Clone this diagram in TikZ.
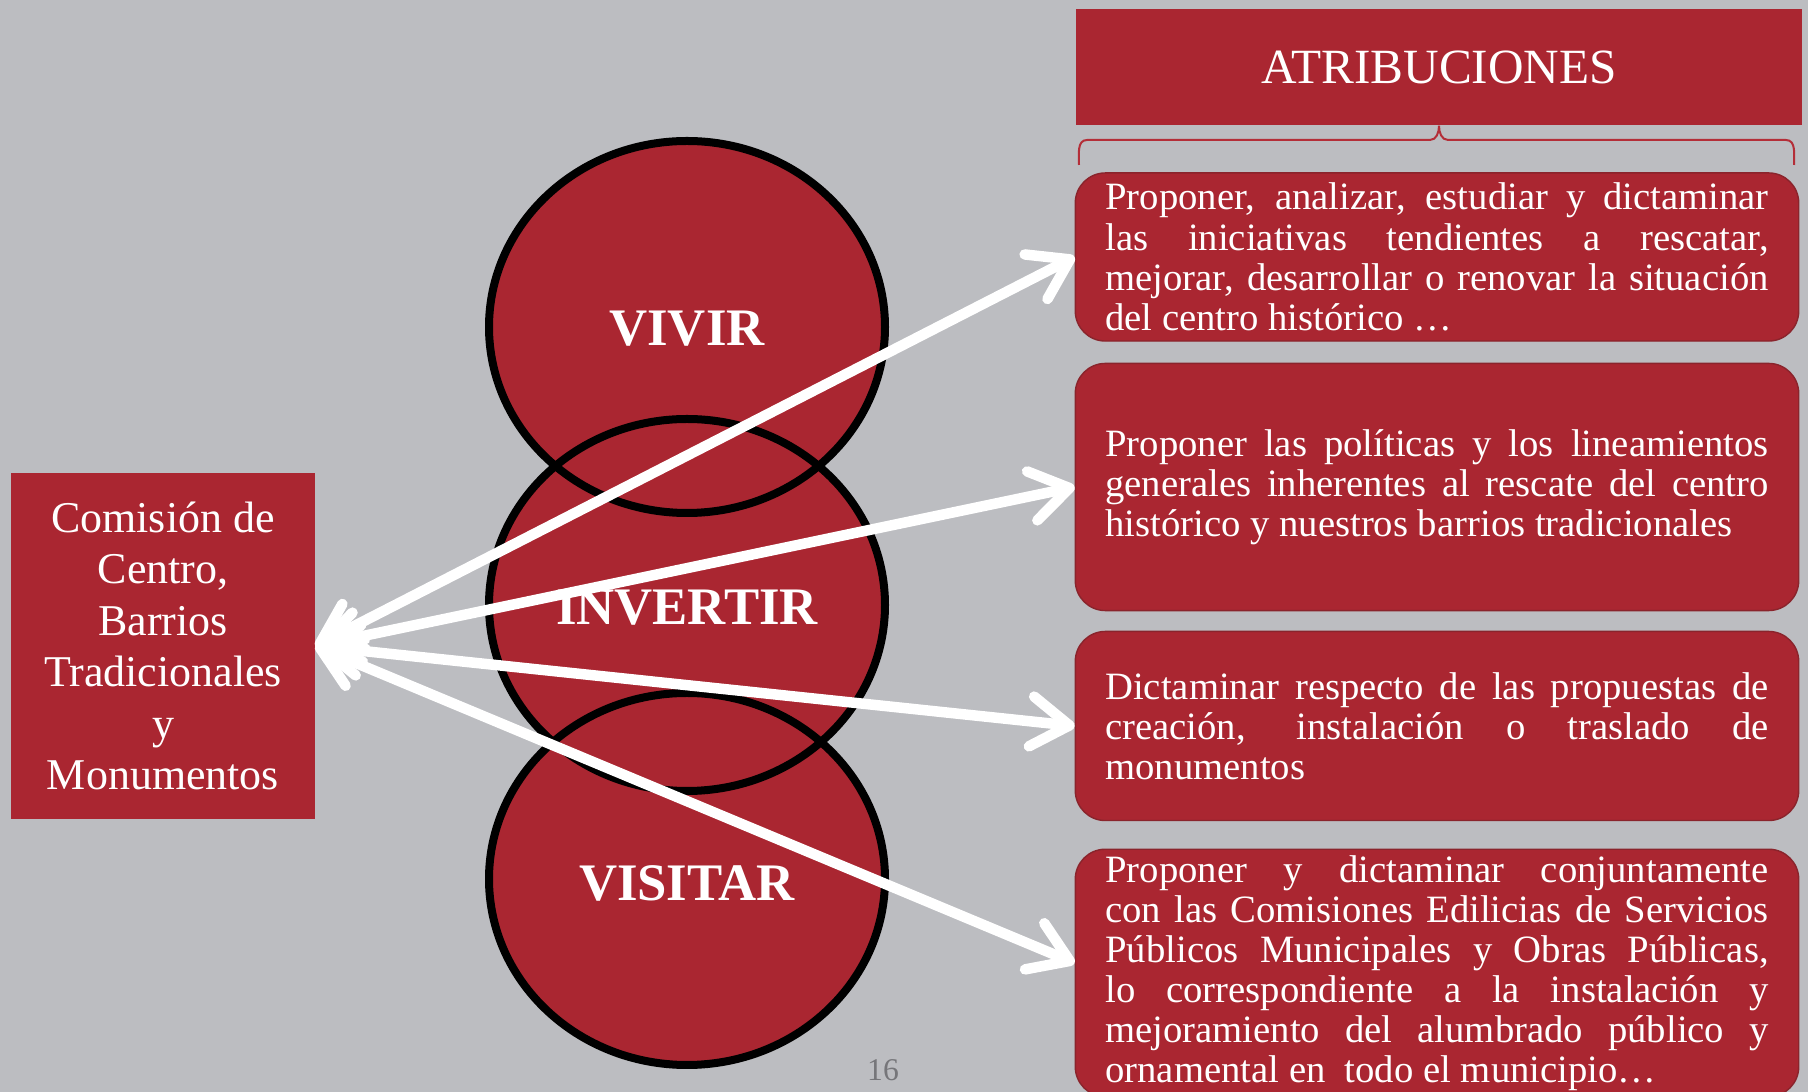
\documentclass[tikz,border=0pt]{standalone}
\usepackage{fontspec}
\setmainfont{Liberation Serif}
\usetikzlibrary{arrows.meta}
\definecolor{fondo}{RGB}{188,189,193}
\definecolor{rojo}{RGB}{170,38,49}
\definecolor{borde}{RGB}{138,36,44}
\definecolor{llave}{RGB}{180,46,56}
\definecolor{numero}{RGB}{118,118,122}
\begin{document}
\begin{tikzpicture}[x=0.01cm,y=-0.01cm,
    caja/.style={rectangle,rounded corners=0.3cm,fill=rojo,draw=borde,line width=0.4pt,text=white,
      text width=6.63cm,align=justify,inner xsep=0.3cm,inner ysep=0pt,font=\fontsize{11}{11.4}\selectfont},
    titulo/.style={rectangle,fill=rojo,text=white,minimum width=7.26cm,minimum height=1.16cm,font=\fontsize{14}{16}\selectfont},
    comision/.style={rectangle,fill=rojo,text=white,minimum width=3.03cm,minimum height=3.46cm,align=center,
      inner sep=0pt,font=\fontsize{12.5}{14.65}\selectfont},
    circulo/.style={text=white,font=\fontsize{15}{17}\selectfont\bfseries},
    aro/.style={draw=black,line width=0.8mm},
    flecha/.style={draw=white,line width=1.05mm,line cap=round,<->,
      >={Straight Barb[length=3.8mm,width=5mm,round]}},
    llave/.style={draw=llave,line width=0.2mm},
    pagina/.style={text=numero,font=\fontsize{9}{10}\selectfont}]
  \useasboundingbox (0,0) rectangle (1808,1092);
  \fill[fondo] (0,0) rectangle (1808,1092);
  \foreach \y in {327,605,879}
    \fill[rojo] (687,\y) ellipse [x radius=198, y radius=186];
  \foreach \y in {327,605,879}
    \draw[aro] (687,\y) ellipse [x radius=198, y radius=186];
  \node[circulo] (v1) at (687,329) {VIVIR};
  \node[circulo] (v2) at (687,608) {INVERTIR};
  \node[circulo] (v3) at (687,883) {VISITAR};
  \node[titulo] (t) at (1439,67) {ATRIBUCIONES};
  \draw[llave] (1079,165) to[out=90,in=180] (1087,140) -- (1430,140) to[out=0,in=-90] (t.south)
    to[out=-90,in=180] (1448,140) -- (1786,140) to[out=0,in=90] (1794,165);
  \node[caja,minimum height=1.68cm] (b1) at (1437,257) {Proponer, analizar, estudiar y dictaminar\linebreak
    las iniciativas tendientes a rescatar,\linebreak
    mejorar, desarrollar o renovar la situación\linebreak
    del centro histórico \dots};
  \node[caja,minimum height=2.47cm] (b2) at (1437,487) {Proponer las políticas y los lineamientos\linebreak
    generales inherentes al rescate del centro\linebreak
    histórico y nuestros barrios tradicionales};
  \node[caja,minimum height=1.89cm] (b3) at (1437,726) {Dictaminar respecto de las propuestas de\linebreak
    creación, instalación o traslado de\linebreak
    monumentos};
  \node[caja,inner ysep=0.06cm] (b4) at (1437,973) {Proponer y dictaminar conjuntamente\linebreak
    con las Comisiones Edilicias de Servicios\linebreak
    Públicos Municipales y Obras Públicas,\linebreak
    lo correspondiente a la instalación y\linebreak
    mejoramiento del alumbrado público y\linebreak
    ornamental en\ \ todo el municipio\dots};
  \node[comision] (c) at (163,646) {Comisión de\\Centro,\\Barrios\\Tradicionales\\y\\Monumentos};
  \node[pagina] (n) at (883,1070) {16};
  \draw[flecha] (c.east) -- (b1.west);
  \draw[flecha] (c.east) -- (b2.west);
  \draw[flecha] (c.east) -- (b3.west);
  \draw[flecha] (c.east) -- ([yshift=0.1cm]b4.west);
\end{tikzpicture}
\end{document}
